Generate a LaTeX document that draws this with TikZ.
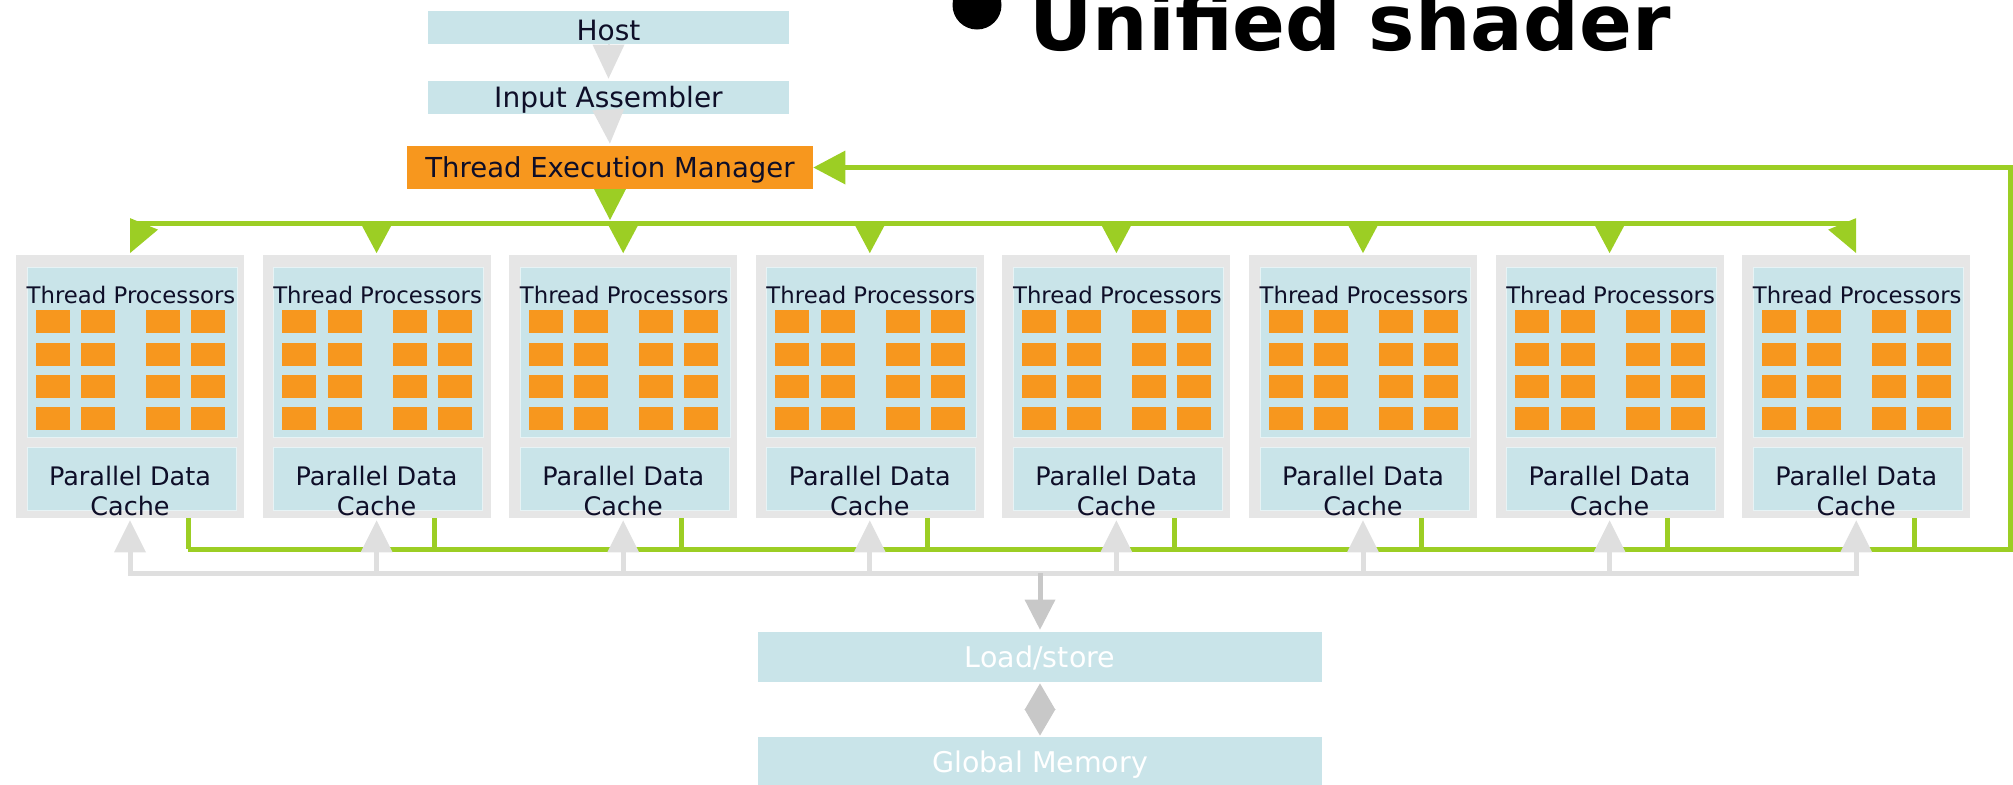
\documentclass[tikz,border=0pt]{standalone}
\usepackage{fontspec}
\setmainfont{DejaVu Sans}
\usetikzlibrary{arrows.meta,calc}
\definecolor{panelblue}{RGB}{201,228,233}
\definecolor{tporange}{RGB}{247,151,30}
\definecolor{linegreen}{RGB}{156,206,36}
\definecolor{boxgrey}{RGB}{230,230,230}
\definecolor{arrowgrey}{RGB}{223,223,223}
\definecolor{darkgrey}{RGB}{200,200,200}
\definecolor{txt}{RGB}{14,14,40}
\begin{document}
\begin{tikzpicture}[x=0.5pt,y=-0.5pt,
  stagebox/.style={rectangle, fill=panelblue, inner sep=0pt, minimum width=180.5pt,
    minimum height=16.5pt, text=txt, font=\fontsize{14pt}{16pt}\selectfont,
    text height=10.2pt, text depth=0pt},
  tembox/.style={rectangle, fill=tporange, inner sep=0pt, minimum width=203pt,
    minimum height=21.5pt, text=txt, font=\fontsize{13.75pt}{16pt}\selectfont,
    text height=10pt, text depth=0pt},
  lsbox/.style={rectangle, fill=panelblue, inner sep=0pt, minimum width=282pt,
    minimum height=25pt, text=white, font=\fontsize{14.25pt}{16pt}\selectfont,
    text height=10.4pt, text depth=0pt},
  smbox/.style={rectangle, fill=boxgrey, inner sep=0pt, minimum width=114pt, minimum height=131.5pt},
  tppanel/.style={rectangle, fill=panelblue, draw=white!55!panelblue, line width=0.5pt,
    inner sep=0pt, minimum width=105pt, minimum height=85pt},
  cpanel/.style={rectangle, fill=panelblue, draw=white!55!panelblue, line width=0.5pt,
    inner sep=0pt, minimum width=104.5pt, minimum height=31.5pt},
  tptext/.style={inner sep=0pt, text=txt, font=\fontsize{11.4pt}{13pt}\selectfont},
  ctext/.style={inner sep=0pt, align=center, text=txt, font=\fontsize{12.75pt}{15pt}\selectfont},
  core/.style={rectangle, fill=tporange, inner sep=0pt, minimum width=17pt, minimum height=11.5pt},
  greenline/.style={draw=linegreen, line width=2.5pt},
  greyline/.style={draw=arrowgrey, line width=2.5pt},
  greentip/.style={-{Triangle[length=15pt,width=16pt,line width=0pt]}},
  greytip/.style={-{Triangle[length=16pt,width=16pt,line width=0pt]}}
]
\useasboundingbox (0,0) rectangle (2013,784);
\clip (0,0) rectangle (2013,784);

% title
\node[circle, fill=black, inner sep=0pt, minimum size=24.5pt] (bullet) at (977,5) {};
\node[anchor=base west, inner sep=0pt, font=\fontsize{39pt}{39pt}\selectfont\bfseries] (title) at (1029,50) {Unified shader};

% pipeline stages
\node[stagebox, text height=13.2pt] (host) at (608.5,27.5) {Host};
\node[stagebox] (ia) at (608.5,97.5) {Input Assembler};
\node[tembox] (tem) at (610,167.5) {Thread Execution Manager};

\draw[draw=arrowgrey, line width=1pt, -{Triangle[length=17pt,width=16pt,line width=0pt]}, shorten >=1pt] (host.south) -- (ia.north);
\draw[draw=arrowgrey, line width=1pt, -{Triangle[length=17pt,width=16pt,line width=0pt]}, shorten >=1pt] (ia.south) -- (tem.north);

% streaming multiprocessors
\foreach \i in {1,...,8}{
  \pgfmathsetmacro\cx{130+(\i-1)*246.6}
  \node[smbox] (b\i) at (\cx,386.5) {};
  \node[tppanel] (tp\i) at (\cx+2,352) {};
  \node[tptext, anchor=base] (tpl\i) at (\cx+1,303) {Thread Processors};
  \foreach \c/\dx in {1/-77.5,2/-32,3/33,4/78}{
    \foreach \r/\yy in {1/321.5,2/354,3/386.5,4/418.5}{
      \node[core] (c\i-\c-\r) at (\cx+\dx,\yy) {};
    }
  }
  \node[cpanel] (pc\i) at (\cx+1.5,478.5) {};
  \node[ctext] (pct\i) at (\cx,490.5) {Parallel Data\\Cache};
  \coordinate (t\i) at (\cx,223);
  \coordinate (gd\i) at (\cx+58,549);
  \coordinate (gg\i) at (\cx,573);
}

% distribution from thread execution manager
\coordinate (tm) at (610,223);
\draw[greenline] (t1) -- (t8);
\draw[greenline, -{Triangle[length=15.5pt,width=16pt,line width=0pt]}, shorten >=1.5pt] (tem.south) -- (tm);
\foreach \i in {2,...,7}{
  \draw[greenline, greentip, shorten >=0.75pt] (t\i) -- (b\i.north);
}
\fill[linegreen] ($(b1.north)+(0,-36.5)$) -- ($(b1.north)+(28,-25)$) -- ($(b1.north)+(0,-1.5)$) -- cycle;
\fill[linegreen] ($(b8.north)+(0,-36.5)$) -- ($(b8.north)+(-28,-25)$) -- ($(b8.north)+(0,-1.5)$) -- cycle;

% green feedback bus
\coordinate (gr) at (2010,549);
\foreach \i in {1,...,8}{
  \draw[greenline] (gd\i |- b\i.south) -- (gd\i);
}
\draw[greenline, -{Triangle[length=16pt,width=17pt,line width=0pt]}] (gd1) -- (gr) |- (tem.east);

% grey bus to load/store
\draw[greyline, line cap=rect] (gg1) -- (gg8);
\foreach \i in {1,...,8}{
  \draw[greyline, greytip, shorten >=1pt] (gg\i) -- (b\i.south);
}

% load/store and global memory
\node[lsbox] (ls) at (1040,657) {Load/store};
\node[lsbox] (gm) at (1040,762) {Global Memory};
\coordinate (lsin) at (1040,573);
\draw[draw=darkgrey, line width=2.5pt, -{Triangle[length=15pt,width=15.5pt,line width=0pt]}, shorten >=1pt] (lsin) -- (ls.north);
\draw[draw=darkgrey, line width=1pt, {Triangle[length=13.25pt,width=15.5pt,line width=0pt]}-{Triangle[length=13.25pt,width=15.5pt,line width=0pt]}, shorten >=0.5pt, shorten <=0.5pt] (ls.south) -- (gm.north);
\end{tikzpicture}
\end{document}
